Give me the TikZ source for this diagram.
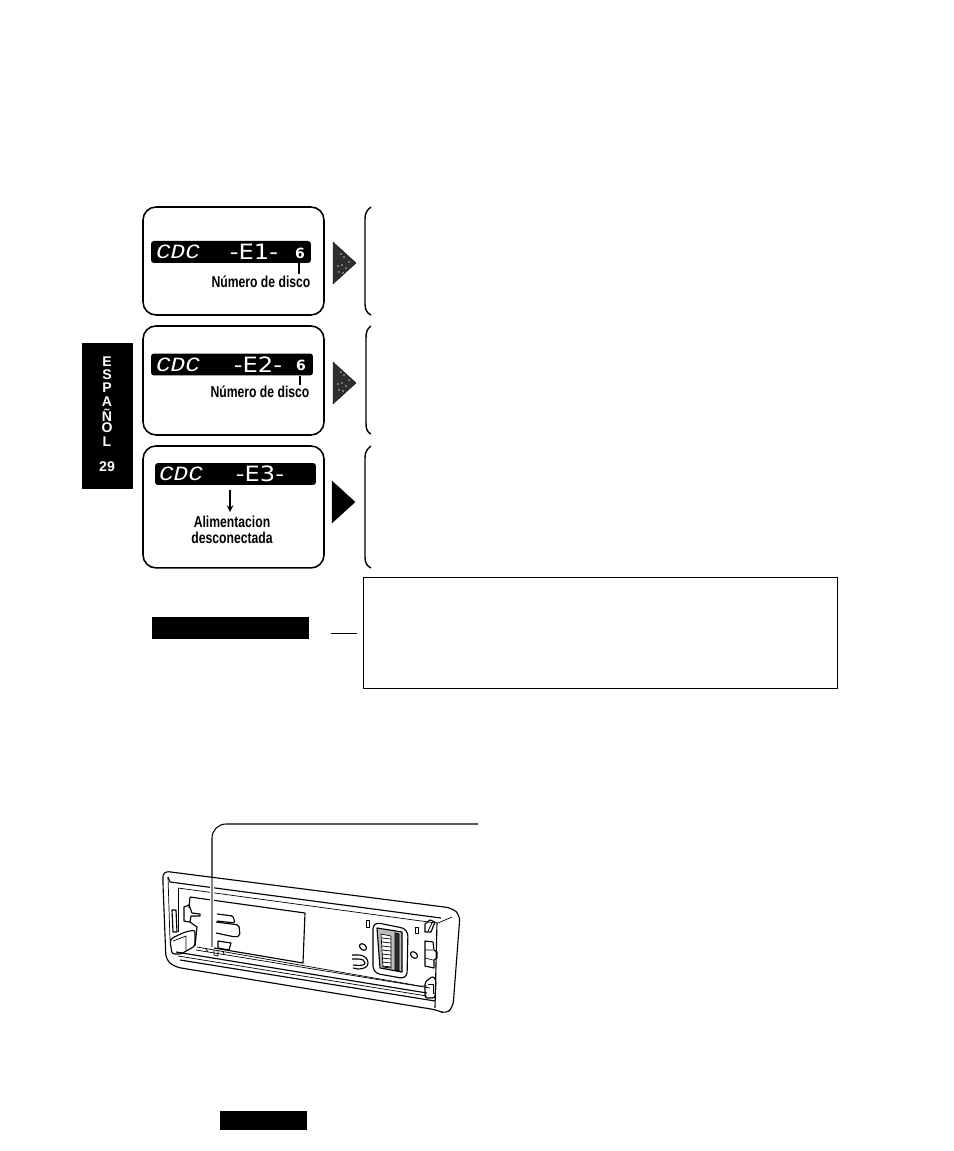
\documentclass[tikz,border=0pt]{standalone}
\usepackage{fontspec}
\setmainfont{Liberation Sans}
\newfontfamily\lcdfont{Liberation Mono}
\newfontfamily\segfont{DejaVu Sans}
\usetikzlibrary{positioning}
\definecolor{mnInk}{HTML}{000000}
\definecolor{mnTone}{HTML}{2E2E2E}
\definecolor{mnHalo}{HTML}{BDBDBD}

\begin{document}
\begin{tikzpicture}[
    x=0.02cm, y=-0.02cm,
    node distance=0.22cm,
    statebox/.style={draw=mnInk, line width=0.9pt, outer sep=0pt, rounded corners=0.26cm, minimum width=3.62cm, inner sep=0pt},
    lcd/.style={fill=mnInk, rounded corners=0.06cm, minimum width=3.2cm, minimum height=0.44cm, inner sep=0pt},
    lcdcode/.style={text=white, inner sep=0pt, font=\lcdfont\itshape\fontsize{11.5}{12}\selectfont, xscale=1.2},
    lcderror/.style={text=white, inner sep=0pt, font=\segfont\fontsize{12}{13}\selectfont, xscale=1.15},
    lcddisc/.style={text=white, inner sep=0pt, font=\segfont\bfseries\fontsize{8}{9}\selectfont},
    caption/.style={inner sep=0pt, align=center, xscale=0.77, font=\bfseries\fontsize{9}{9.2}\selectfont},
    tabtext/.style={text=white, inner sep=0pt, font=\bfseries\fontsize{8}{9}\selectfont},
    pointer/.style={draw=mnInk, fill=mnTone, line width=0.2pt},
    speck/.style={fill=mnHalo},
    bracket/.style={draw=mnInk, line width=0.8pt},
    part/.style={draw=mnInk, line width=0.65pt, line join=round},
    thin part/.style={draw=mnInk, line width=0.4pt, line join=round}
]
    \useasboundingbox (0,0) rectangle (953,1151);

    % language tab
    \node[fill=mnInk, minimum width=1.02cm, minimum height=2.92cm, inner sep=0pt] (tab) at (107.5,416) {};
    \node[tabtext] (tabE) at (107,362) {E};
    \node[tabtext] (tabS) at (107,375) {S};
    \node[tabtext] (tabP) at (107,388) {P};
    \node[tabtext] (tabA) at (107,402) {A};
    \node[tabtext] (tabN) at (107,415) {Ñ};
    \node[tabtext] (tabO) at (107,428) {O};
    \node[tabtext] (tabL) at (107,442) {L};
    \node[tabtext] (tabPage) at (107,467) {29};

    % state boxes
    \node[statebox, minimum height=2.16cm] (stateA) at (233.5,261) {};
    \node[statebox, minimum height=2.18cm, below=of stateA] (stateB) {};
    \node[statebox, minimum height=2.44cm, below=of stateB] (stateC) {};

    % displays
    \node[lcd] (lcdA) at (231,252) {};
    \node[lcd, minimum width=3.24cm] (lcdB) at (232,364.5) {};
    \node[lcd, minimum width=3.22cm] (lcdC) at (235.5,474) {};

    \node[lcdcode] (codeA) at (178,252) {CDC};
    \node[lcderror] (errorA) at (254,252) {-E1-};
    \node[lcddisc] (discA) at (300,253) {6};
    \node[lcdcode] (codeB) at (178,364.5) {CDC};
    \node[lcderror] (errorB) at (258,364.5) {-E2-};
    \node[lcddisc] (discB) at (301,365) {6};
    \node[lcdcode] (codeC) at (181,474) {CDC};
    \node[lcderror] (errorC) at (260,474) {-E3-};

    % captions
    \node[caption] (noteA) at (261,282) {Número de disco};
    \node[caption] (noteB) at (260,392) {Número de disco};
    \node[caption] (noteC) at (232,530) {Alimentacion\\desconectada};

    \coordinate (tickA) at (299,263);
    \coordinate (tickB) at (300,376);
    \coordinate (noteAtop) at (299,274);
    \coordinate (noteBtop) at (300,385);
    \coordinate (powerTop) at (230,490);
    \coordinate (powerEnd) at (230,512);
    \draw[line width=0.7pt] (tickA) -- (noteAtop);
    \draw[line width=0.7pt] (tickB) -- (noteBtop);
    \draw[->, >=stealth, line width=0.7pt] (powerTop) -- (powerEnd);

    % pointers
    \draw[pointer] (333,242) -- (356,263) -- (333,284) -- cycle;
    \draw[pointer] (333,362) -- (356,383) -- (333,404) -- cycle;
    \draw[pointer, fill=mnInk] (332,481) -- (355,502) -- (332,523) -- cycle;
    \foreach \speckX/\speckY in {341/254, 344/257, 338/266, 342/265, 346/268, 339/272, 343/273, 349/262} {
        \fill[speck] (\speckX,\speckY) circle (0.8);
        \fill[speck] (\speckX,\speckY+118) circle (0.8);
    }

    % brackets
    \draw[bracket] (371,207) .. controls (367,210) and (365,213) .. (365,219) -- (365,304) .. controls (365,310) and (367,313) .. (371,315);
    \draw[bracket] (371,326) .. controls (367,329) and (366,332) .. (366,338) -- (366,423) .. controls (366,429) and (367,432) .. (371,434);
    \draw[bracket] (371,446) .. controls (367,449) and (365,452) .. (365,458) -- (365,557) .. controls (365,563) and (367,566) .. (371,568);

    % note
    \node[draw=mnInk, line width=0.55pt, outer sep=0pt, minimum width=9.5cm, minimum height=2.22cm, inner sep=0pt] (note) at (600.5,632.5) {};
    \node[fill=mnInk, minimum width=3.14cm, minimum height=0.44cm, inner sep=0pt] (noteBar) at (230.5,628) {};
    \coordinate (noteTickA) at (331,633);
    \coordinate (noteTickB) at (357,633);
    \draw[line width=0.5pt] (noteTickA) -- (noteTickB);

    \node[fill=mnInk, minimum width=1.74cm, minimum height=0.38cm, inner sep=0pt] (footBar) at (263.5,1120.5) {};

    % panel outline
    \draw[part, rounded corners=0.12cm] (163,885) -- (163,871) -- (452,908) -- (460,915) -- (453,1007) -- (446,1014) -- (437,1010) -- (175,967) -- (166,960) -- cycle;
    \draw[part] (168,877) -- (170,882) -- (441,918);
    \draw[thin part] (168,877) -- (170,940);
    \draw[part] (437,922) -- (435,1008);
    \draw[thin part] (438,923) -- (452,917);
    \draw[thin part] (178,888) -- (436,923);
    \draw[thin part] (178,888) -- (178,932);

    % panel rails
    \draw[part] (176,952) -- (427,993);
    \draw[thin part] (178,956) -- (427,996);
    \draw[part] (180,960) -- (435,1001);
    \draw[thin part] (197,947) -- (420,986) -- (427,986);
    \draw[thin part] (196,950) -- (430,988);

    % window
    \draw[part] (190,897) -- (305,913) -- (303,963) -- (214,948);
    \draw[part] (190,897) -- (189,908);

    % left latch
    \draw[part] (172,910) -- (176,910) -- (177,932) -- (173,932) -- cycle;
    \draw[part] (184,907) -- (189,905) -- (192,913) -- (200,914) -- (200,916) -- (191,916) -- (190,922) -- (184,921) -- cycle;
    \draw[part] (190,922) -- (197,927) -- (195,946);
    \draw[part, rounded corners=0.05cm] (170,941) -- (172,954) -- (181,954) -- (195,946) -- (195,930) -- (185,932) -- (172,938) -- cycle;
    \draw[thin part] (173,941) -- (186,936) -- (186,950);

    % blocks behind the leader
    \draw[part, rounded corners=0.03cm] (217,914) -- (233,916) -- (235,923) -- (217,921);
    \draw[part, rounded corners=0.04cm] (216,922) -- (239,925) -- (240,936) -- (235,937) -- (216,933);
    \draw[part] (218,941) -- (231,943) -- (229,950) -- (218,948) -- cycle;
    \draw[thin part] (206,949) -- (208,952) (214,950) -- (214,955) -- (218,956) -- (218,951) (223,951) -- (224,954);

    % connector module
    \draw[part, rounded corners=0.14cm] (373,922) -- (408,929) -- (407,979) -- (373,973) -- cycle;
    \draw[part, fill=mnHalo] (377,928) -- (402,932) -- (402,972) -- (380,968) -- cycle;
    \draw[thin part, fill=white] (381,934) -- (391,936) -- (391,968) -- (383,967) -- cycle;
    \foreach \pinY in {938,942,...,966} {
        \draw[thin part] (382,\pinY) -- (391,\pinY+1);
    }
    \draw[line width=0.5pt, fill=mnTone] (395,933) -- (399,934) -- (399,971) -- (395,970) -- cycle;

    % small marks
    \draw[thin part] (366,920) rectangle (369,927);
    \draw[thin part] (415,927) rectangle (418,933);
    \draw[part, rotate around={-40:(363,947)}] (363,947) ellipse (4 and 2.8);
    \draw[part, rotate around={-40:(414,955)}] (414,955) ellipse (4 and 2.8);
    \draw[part] (352,955) -- (358,955) .. controls (366,955) and (368,960) .. (368,963) .. controls (368,967) and (364,969) .. (358,969) -- (353,968);
    \draw[part] (352,959) -- (358,959) .. controls (363,959) and (365,961) .. (365,963) .. controls (365,965) and (362,966) .. (353,965);

    % right side parts
    \draw[part] (425,924) -- (430,920) -- (435,922) -- (431,932) -- (425,932) -- cycle;
    \draw[thin part] (428,931) -- (432,923);
    \draw[part] (425,941) -- (433,942) -- (434,950) -- (437,952) -- (437,958) -- (434,960) -- (434,968) -- (425,966) -- cycle;
    \draw[thin part] (425,950) -- (433,950) (425,958) -- (433,960);
    \draw[part, rounded corners=0.05cm] (425,998) -- (425,982) -- (433,976) -- (436,980) -- (435,998) -- cycle;
    \draw[thin part] (428,984) -- (433,984) -- (433,994);

    % leader to the window, light where it crosses the panel
    \coordinate (leaderEnd) at (478,824);
    \coordinate (leaderCorner) at (212,824);
    \coordinate (leaderFoot) at (212,947);
    \draw[line width=2.2pt, white] (212,880) -- (leaderFoot);
    \draw[line width=0.6pt, rounded corners=0.28cm] (leaderEnd) -- (leaderCorner) -- (212,878);
    \draw[line width=0.6pt, mnHalo!70!black] (212,878) -- (leaderFoot);
\end{tikzpicture}
\end{document}
